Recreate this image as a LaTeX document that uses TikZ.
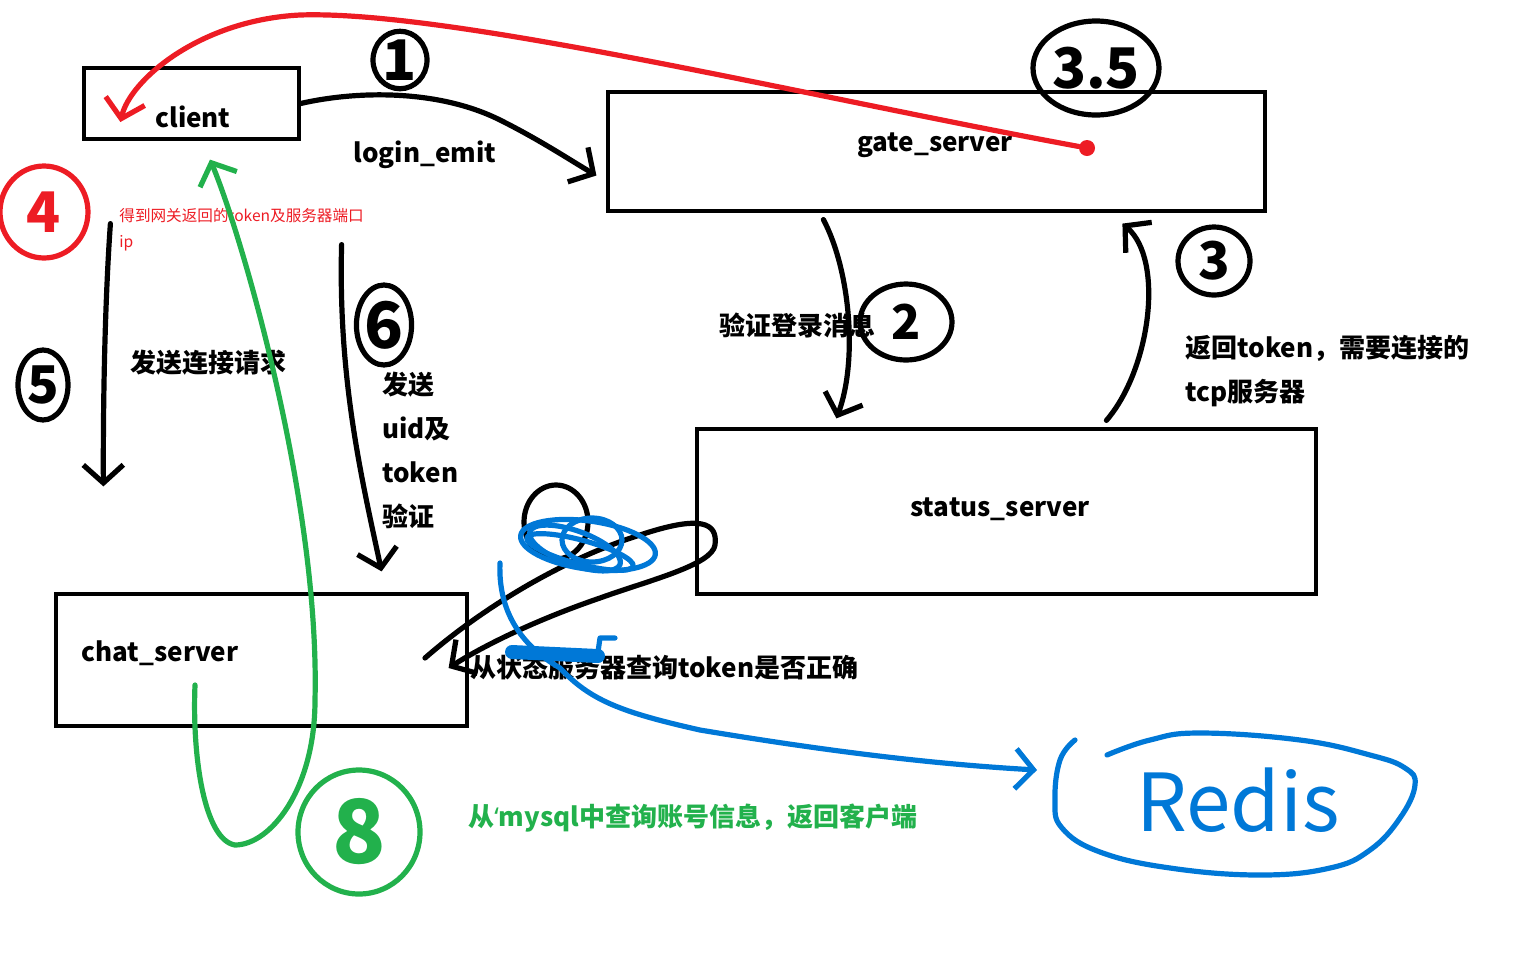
\documentclass[tikz,border=0pt]{standalone}
\usepackage{fontspec}
\setmainfont{Noto Sans CJK SC}
\newfontfamily\latinfont{Noto Sans}
\usepackage{tikz}
\usetikzlibrary{positioning,arrows.meta,shapes.geometric}
\definecolor{pred}{RGB}{237,28,36}
\definecolor{pgreen}{RGB}{34,177,76}
\definecolor{pblue}{RGB}{0,120,215}
\tikzset{
  srv/.style={draw,line width=1.6pt,inner sep=0pt},
  lbl/.style={font=\fontsize{13}{22}\selectfont\bfseries,inner sep=0pt,align=left},
  pen/.style={line width=2.6pt,line cap=round,line join=round},
  hand/.style={pen,-{Straight Barb[length=9pt,width=20pt]}},
  num/.style={ellipse,draw,pen,inner sep=0pt},
}

\begin{document}
\begin{tikzpicture}[x=0.5pt,y=-0.5pt]
\useasboundingbox (0,0) rectangle (1536,960);
% servers
\foreach \nm/\cx/\cy/\w/\h in {client/191.5/103.5/107.5/35.5, gate/936.5/151.5/328.5/59.5,
  status/1006.5/511.5/309.5/82.5, chat/261.5/660/205.5/66}
  \node[srv,minimum width=\w pt,minimum height=\h pt] (\nm) at (\cx,\cy) {};
\node[lbl] (clientl) at (193,117) {client};
\node[lbl] (gatel) at (935,145) {gate\_server};
\node[lbl] (statusl) at (1000,509) {status\_server};
\node[lbl] (chatl) at (160,653) {chat\_server};

% step labels
\node[lbl] (emit) at (425,155) {login\_emit};
\node[lbl] (check) at (797,325) {验证登录消息};
\node[lbl,anchor=west] (back) at (1185,371) {返回token，需要连接的\\tcp服务器};
\node[lbl] (conn) at (208,363) {发送连接请求};
\node[lbl,anchor=west] (send) at (382,450) {发送\\uid及\\token\\验证};
\node[lbl,anchor=west] (query) at (470,667) {从状态服务器查询token是否正确};
\node[lbl,anchor=west,text=pgreen] (mysql) at (468,818) {从{\latinfont\bfseries‘}mysql中查询账号信息，返回客户端};
\node[anchor=west,align=left,inner sep=0pt,text=pred,font=\fontsize{7.8}{13}\selectfont] (got) at (119,230)
  {得到网关返回的token及服务器端口\\ip};

% circled numbers
\foreach \id/\n/\x/\y/\w/\h/\c/\fs in {c1/1/400/60/27/27/black/28, c35/3.5/1096/68/63/47/black/28,
  c4/4/44/212/44/46/pred/28, c2/2/906/322/46/38/black/24, c3/3/1214/261/36/34/black/26,
  c5/5/43/385/25/35/black/26, c6/6/384/325/23/40/black/32, c8/8/359/832/61/62/pgreen/44}
  \node[num,\c,minimum width=\w pt,minimum height=\h pt,font=\fontsize{\fs}{\fs}\selectfont\bfseries] (\id) at (\x,\y) {\n};
\node[num,minimum width=32pt,minimum height=37pt] (c7) at (556,522) {};

% connectors
\draw[hand] (client.east) .. controls (360,90) and (440,90) .. (500,120)
  .. controls (540,140) and (570,160) .. ([xshift=-5pt,yshift=-12pt]gate.west);
\draw[hand] ([xshift=108.5pt,yshift=-3.5pt]gate.south west) .. controls (850,270) and (858,360)
  .. ([xshift=70.5pt,yshift=4.5pt]status.north west);
\draw[hand] ([xshift=205.5pt,yshift=3.5pt]status.north west) .. controls (1150,370) and (1165,260)
  .. ([xshift=258pt,yshift=-5.5pt]gate.south west);
\draw[hand] ([xshift=14pt,yshift=-41.5pt]client.south west) .. controls (105,300) and (103,400)
  .. ([xshift=24.5pt,yshift=53pt]chat.north west);
\draw[hand] ([xshift=20.5pt,yshift=-52pt]client.south east) .. controls (338,380) and (362,480)
  .. ([xshift=-43.5pt,yshift=10.5pt]chat.north east);
\coordinate (t7) at (425,658);
\draw[hand] (t7) .. controls (480,610) and (560,560) .. (640,535)
  .. controls (700,515) and (718,522) .. (715,545)
  .. controls (712,565) and (650,580) .. (600,598)
  .. controls (530,622) and (480,648) .. ([xshift=-10pt,yshift=-4pt]chat.east);

% red: gate back to client
\node[circle,fill=pred,minimum size=8pt,inner sep=0pt] (dot) at (1087,148) {};
\draw[hand,pred] (dot) .. controls (800,95) and (450,10) .. (300,15)
  .. controls (200,20) and (130,80) .. ([xshift=19pt,yshift=-9.25pt]client.west);

% green: chat back to client
\draw[hand,pgreen] ([xshift=-33.25pt,yshift=-12.5pt]chat.center) .. controls (192,760) and (205,840) .. (235,845)
  .. controls (270,845) and (315,790) .. (315,700)
  .. controls (320,500) and (240,230) .. ([xshift=9.25pt,yshift=-9.5pt]client.south);

% blue scribble and redis
\draw[pen,pblue] (588,545) ellipse [x radius=68,y radius=24,rotate=-8];
\draw[pen,pblue] (575,548) ellipse [x radius=48,y radius=17,rotate=-20];
\draw[pen,pblue] (592,540) ellipse [x radius=30,y radius=22];
\draw[pen,pblue] (580,552) ellipse [x radius=55,y radius=12,rotate=-15];
\draw[pblue,line width=7pt,line cap=round] (512,652) -- (598,656);
\draw[pen,pblue] (598,652) -- (600,638) -- (615,638);
\node[text=pblue,font=\fontsize{40}{40}\selectfont,inner sep=0pt] (redis) at (1238,800) {Redis};
\draw[pen,pblue] plot[smooth,tension=.7] coordinates {(1075,740) (1060,760) (1055,800) (1062,828)
  (1100,852) (1170,868) (1260,875) (1330,868) (1370,850) (1400,818) (1415,785) (1405,768)
  (1370,755) (1300,740) (1200,733) (1150,740) (1107,755)};
\coordinate (scr) at (500,563);
\coordinate (rin) at (1037,770);
\draw[hand,pblue] (scr) .. controls (498,610) and (520,645) .. (560,668)
  .. controls (590,700) and (620,712) .. (700,730)
  .. controls (850,755) and (950,765) .. (rin);
\end{tikzpicture}
\end{document}
